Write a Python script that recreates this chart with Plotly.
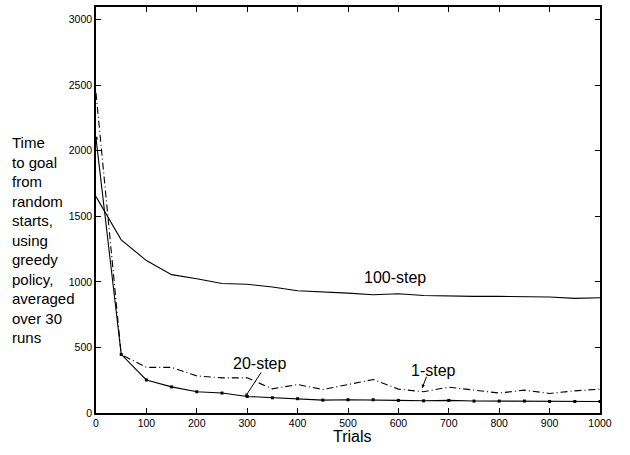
import plotly.graph_objects as go

trials = [0, 50, 100, 150, 200, 250, 300, 350, 400, 450, 500, 550, 600, 650, 700, 750, 800, 850, 900, 950, 1000]

step100 = [1650, 1320, 1162, 1055, 1023, 987, 982, 960, 932, 924, 914, 901, 909, 896, 891, 889, 889, 886, 884, 874, 879]
step20 = [2095, 447, 252, 199, 162, 152, 126, 116, 109, 98, 101, 101, 96, 93, 96, 91, 91, 91, 88, 88, 88]
step1 = [2440, 445, 348, 348, 283, 268, 268, 184, 217, 179, 217, 255, 182, 162, 197, 174, 152, 174, 149, 169, 182]

x_ticks = [0, 100, 200, 300, 400, 500, 600, 700, 800, 900, 1000]
y_ticks = [0, 500, 1000, 1500, 2000, 2500, 3000]

FONT = "Liberation Sans, Arial, Helvetica, sans-serif"

fig = go.Figure()
fig.add_trace(go.Scatter(x=trials, y=step100, mode="lines",
                         line=dict(color="black", width=1.1), showlegend=False))
fig.add_trace(go.Scatter(x=trials, y=step20, mode="lines+markers",
                         line=dict(color="black", width=1.1),
                         marker=dict(color="black", size=3, symbol="square"),
                         showlegend=False))
fig.add_trace(go.Scatter(x=trials, y=step1, mode="lines",
                         line=dict(color="black", width=1.1, dash="7px,3px,1px,3px"),
                         showlegend=False))

axis_common = dict(showgrid=False, zeroline=False, showline=True, linecolor="black",
                   linewidth=1.5, mirror="allticks", ticks="inside", ticklen=5,
                   tickcolor="black", tickwidth=1,
                   tickfont=dict(family=FONT, size=10.5, color="black"))

fig.update_xaxes(range=[0, 1000], tickvals=x_ticks, **axis_common)
fig.update_yaxes(range=[0, 3095], tickvals=y_ticks, **axis_common)

fig.add_annotation(text="Trials", xref="paper", yref="paper", x=0.508, y=-24 / 408,
                   xanchor="center", yanchor="middle", showarrow=False,
                   font=dict(family=FONT, size=16, color="black"))

ylabel = "Time<br>to goal<br>from<br>random<br>starts,<br>using<br>greedy<br>policy,<br>averaged<br>over 30<br>runs"
fig.add_annotation(text=ylabel, xref="paper", yref="paper", x=-0.171, y=0.691,
                   xanchor="left", yanchor="top", align="left", showarrow=False,
                   font=dict(family=FONT, size=15, color="black"))

label_font = dict(family=FONT, size=16, color="black")
fig.add_annotation(text="100-step", x=593, y=1030, xref="x", yref="y", showarrow=False,
                   font=label_font)
fig.add_annotation(text="20-step", x=325, y=379, xref="x", yref="y", showarrow=False,
                   font=label_font)
fig.add_annotation(text="1-step", x=669, y=326, xref="x", yref="y", showarrow=False,
                   font=label_font)

arrow_style = dict(showarrow=True, arrowhead=2, arrowsize=0.7, arrowwidth=1,
                   arrowcolor="black", text="", xref="x", yref="y")
fig.add_annotation(x=296, y=123, ax=17, ay=-26, **arrow_style)
fig.add_annotation(x=647, y=189, ax=5, ay=-13, **arrow_style)

fig.update_layout(width=630, height=455, margin=dict(l=96, r=30, t=5, b=42),
                  plot_bgcolor="white", paper_bgcolor="white",
                  font=dict(family=FONT, color="black"))

fig.write_html("out.html", config={"displayModeBar": False},
               post_script="document.body.style.margin='0';")
